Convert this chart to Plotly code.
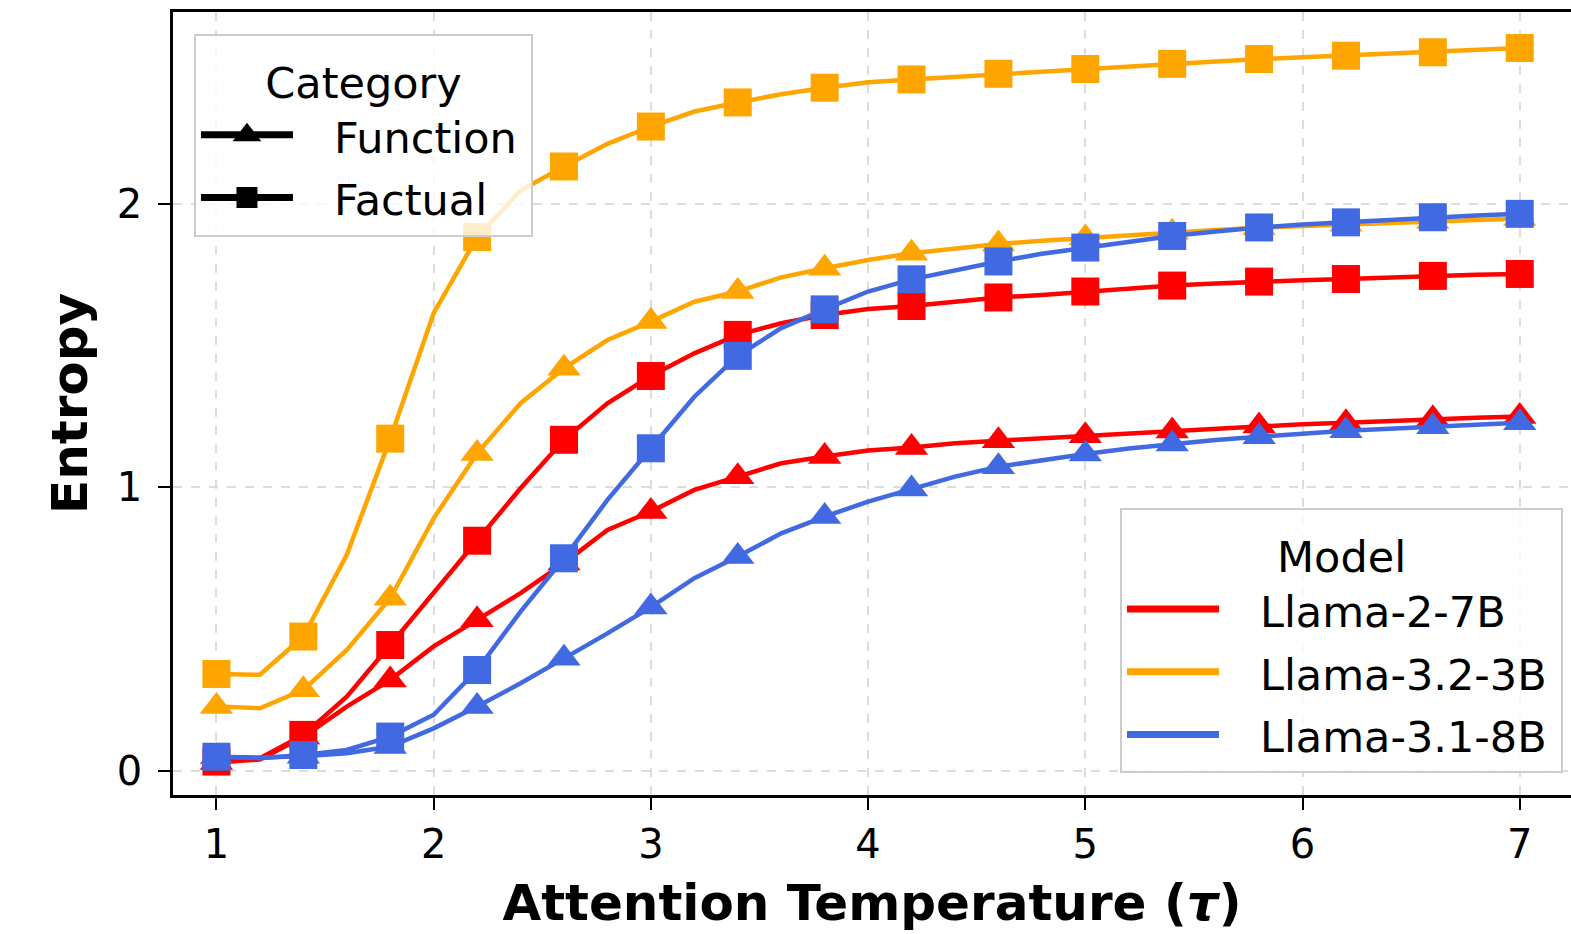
import plotly.graph_objects as go

# Attention temperature grid (line points); markers drawn on every other point
tau = [1.0, 1.2, 1.4, 1.6, 1.8, 2.0, 2.2, 2.4, 2.6, 2.8, 3.0, 3.2, 3.4, 3.6, 3.8, 4.0,
       4.2, 4.4, 4.6, 4.8, 5.0, 5.2, 5.4, 5.6, 5.8, 6.0, 6.2, 6.4, 6.6, 6.8, 7.0]

models = ["Llama-2-7B", "Llama-3.2-3B", "Llama-3.1-8B"]
model_colors = ["#ff0000", "#ffa500", "#4169e1"]
categories = ["Function", "Factual"]
category_symbols = ["triangle-up", "square"]

llama2_function = [0.030, 0.040, 0.120, 0.227, 0.321, 0.439, 0.533, 0.627, 0.733, 0.850, 0.915,
                   0.991, 1.038, 1.085, 1.109, 1.130, 1.141, 1.156, 1.165, 1.173, 1.182, 1.191,
                   1.199, 1.208, 1.217, 1.223, 1.228, 1.235, 1.242, 1.246, 1.250]
llama2_factual = [0.033, 0.045, 0.127, 0.262, 0.444, 0.627, 0.812, 0.997, 1.168, 1.297, 1.393,
                  1.473, 1.538, 1.579, 1.608, 1.629, 1.640, 1.655, 1.670, 1.679, 1.691, 1.702,
                  1.712, 1.719, 1.726, 1.731, 1.735, 1.741, 1.746, 1.750, 1.753]
llama32_function = [0.227, 0.221, 0.286, 0.427, 0.609, 0.891, 1.120, 1.297, 1.420, 1.520, 1.585,
                    1.655, 1.691, 1.741, 1.773, 1.802, 1.826, 1.843, 1.859, 1.870, 1.880, 1.890,
                    1.900, 1.908, 1.916, 1.922, 1.928, 1.933, 1.938, 1.944, 1.949]
llama32_factual = [0.342, 0.339, 0.474, 0.762, 1.172, 1.615, 1.883, 2.047, 2.132, 2.212, 2.273,
                   2.326, 2.358, 2.387, 2.410, 2.429, 2.439, 2.448, 2.459, 2.467, 2.476, 2.486,
                   2.494, 2.503, 2.511, 2.517, 2.523, 2.529, 2.535, 2.542, 2.550]
llama31_function = [0.050, 0.047, 0.052, 0.062, 0.086, 0.150, 0.227, 0.309, 0.397, 0.485, 0.578,
                    0.680, 0.756, 0.838, 0.897, 0.950, 0.994, 1.038, 1.073, 1.097, 1.118, 1.137,
                    1.153, 1.167, 1.179, 1.190, 1.200, 1.207, 1.214, 1.221, 1.228]
llama31_factual = [0.050, 0.045, 0.056, 0.074, 0.121, 0.198, 0.356, 0.562, 0.750, 0.956, 1.138,
                   1.320, 1.464, 1.562, 1.628, 1.691, 1.734, 1.767, 1.797, 1.824, 1.846, 1.868,
                   1.887, 1.903, 1.917, 1.927, 1.935, 1.944, 1.953, 1.959, 1.965]

series = {
    ("Llama-2-7B", "Function"): llama2_function,
    ("Llama-2-7B", "Factual"): llama2_factual,
    ("Llama-3.2-3B", "Function"): llama32_function,
    ("Llama-3.2-3B", "Factual"): llama32_factual,
    ("Llama-3.1-8B", "Function"): llama31_function,
    ("Llama-3.1-8B", "Factual"): llama31_factual,
}

x_ticks = [1, 2, 3, 4, 5, 6, 7]
y_ticks = [0, 1, 2]

FONT = "DejaVu Sans"


def leg_label(s):
    # leading gap between legend glyph and text, slightly smaller visible font than row height
    return ("<span style='font-size:43px'>\u00a0\u00a0\u2009" + s + "\u2009</span>")


fig = go.Figure()

for m, col in zip(models, model_colors):
    for c, sym in zip(categories, category_symbols):
        ys = series[(m, c)]
        fig.add_trace(go.Scatter(x=tau, y=ys, mode="lines", showlegend=False,
                                 line=dict(color=col, width=4.5), hoverinfo="skip"))
        fig.add_trace(go.Scatter(x=tau[::2], y=ys[::2], mode="markers", showlegend=False,
                                 marker=dict(symbol=sym, size=28 if sym == "square" else 29,
                                             color=col, line=dict(width=0)),
                                 name=f"{m} {c}"))

# Legend-only entries: Category
for c, sym in zip(categories, category_symbols):
    fig.add_trace(go.Scatter(x=[None], y=[None], mode="lines+markers", name=leg_label(c),
                             line=dict(color="black", width=7),
                             marker=dict(symbol=sym, size=16, color="black",
                                         line=dict(color="black", width=5)),
                             legend="legend"))
# Legend-only entries: Model
for m, col in zip(models, model_colors):
    fig.add_trace(go.Scatter(x=[None], y=[None], mode="lines", name=leg_label(m),
                             line=dict(color=col, width=7), legend="legend2"))

axis_common = dict(showline=True, linecolor="black", linewidth=2.5, mirror=True,
                   ticks="outside", ticklen=12, tickwidth=2, tickcolor="black",
                   showgrid=True, gridcolor="#dcdcdc", gridwidth=2, griddash="dash",
                   zeroline=False, automargin=False,
                   tickfont=dict(family=FONT, size=40, color="black"))

legend_common = dict(bgcolor="rgba(255,255,255,0.8)", bordercolor="#cccccc", borderwidth=2,
                     font=dict(family=FONT, size=46, color="black"),
                     itemwidth=92, tracegroupgap=0)

fig.update_layout(
    width=1571, height=934,
    margin=dict(l=173, r=0, t=12, b=139),
    plot_bgcolor="white", paper_bgcolor="white",
    xaxis=dict(range=[0.8, 7.236], tickvals=x_ticks,
               title=dict(text="<b>Attention Temperature (<i>τ</i>)</b>",
                          font=dict(family=FONT, size=50, color="black"), standoff=20),
               **axis_common),
    yaxis=dict(range=[-0.085, 2.677], tickvals=y_ticks, ticklabelstandoff=8,
               title=dict(text="<b>Entropy</b>",
                          font=dict(family=FONT, size=50, color="black"), standoff=14),
               **axis_common),
    legend=dict(x=0.015, y=0.972, xanchor="left", yanchor="top",
                title=dict(text="<span style='font-size:43px'>Category</span>", side="top center",
                           font=dict(family=FONT, size=48, color="black")),
                **legend_common),
    legend2=dict(x=0.9943, y=0.028, xanchor="right", yanchor="bottom",
                 title=dict(text="<span style='font-size:43px'>Model</span>", side="top center",
                            font=dict(family=FONT, size=48, color="black")),
                 **legend_common),
)

fig.write_html("out.html", config={"displayModeBar": False},
               post_script="document.body.style.margin='0';")
